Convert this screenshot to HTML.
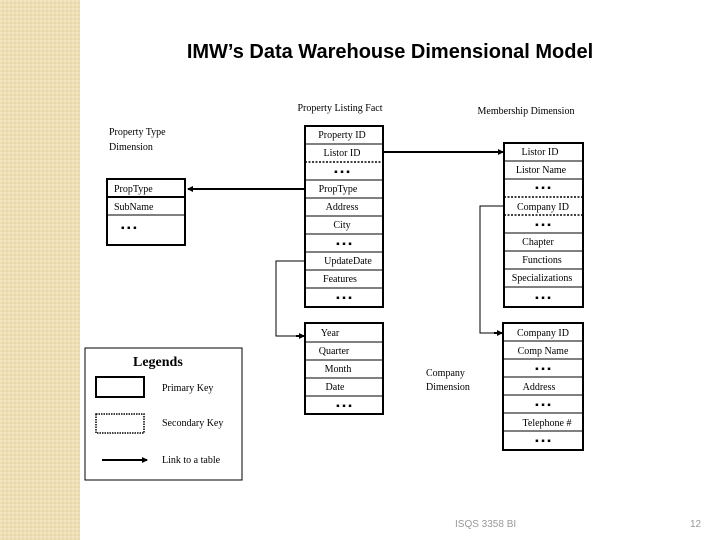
<!DOCTYPE html>
<html><head><meta charset="utf-8"><style>
body{margin:0;width:720px;height:540px;overflow:hidden;background:#fff}
svg{display:block}
.s{font-family:"Liberation Serif",serif;font-size:10px;fill:#000}
</style></head><body>
<svg width="720" height="540" viewBox="0 0 720 540" xmlns="http://www.w3.org/2000/svg">
<defs>
<pattern id="p" width="4" height="4" patternUnits="userSpaceOnUse"><rect width="4" height="4" fill="#eedfb6"/><rect width="2" height="2" fill="#f3e6c4"/><rect x="2" y="2" width="2" height="2" fill="#e8d7ab"/></pattern>
<marker id="a" markerWidth="6" markerHeight="6" refX="5" refY="3" orient="auto" markerUnits="userSpaceOnUse"><path d="M0,0 L6,3 L0,6z" fill="#000"/></marker>
</defs>
<rect width="80" height="540" fill="url(#p)"/>
<text x="390" y="58" text-anchor="middle" font-family="Liberation Sans,sans-serif" font-weight="bold" font-size="20">IMW’s Data Warehouse Dimensional Model</text>

<text class="s" x="340" y="111" text-anchor="middle" font-size="12">Property Listing Fact</text>
<text class="s" x="526" y="114" text-anchor="middle" font-size="12">Membership Dimension</text>
<text class="s" x="109" y="135" font-size="12">Property Type</text>
<text class="s" x="109" y="150" font-size="12">Dimension</text>
<text class="s" x="426" y="376" font-size="12">Company</text>
<text class="s" x="426" y="390" font-size="12">Dimension</text>

<g stroke="#000" fill="none">
<rect x="305" y="126" width="78" height="181" stroke-width="2"/>
<path d="M305 144H383M305 180H383M305 198H383M305 216H383M305 234H383M305 252H383M305 270H383M305 288H383" stroke-width="1"/>
<path d="M305 162H383" stroke-dasharray="2,1.5" stroke-width="1.5"/>
<rect x="107" y="179" width="78" height="66" stroke-width="2"/>
<path d="M107 197H185" stroke-width="2"/><path d="M107 215H185"/>
<rect x="504" y="143" width="79" height="164" stroke-width="2"/>
<path d="M504 161H583M504 179H583M504 233H583M504 251H583M504 269H583M504 287H583"/>
<path d="M504 197H583M504 215H583" stroke-dasharray="2,1.5" stroke-width="1.5"/>
<rect x="305" y="323" width="78" height="91" stroke-width="2"/>
<path d="M305 342H383M305 360H383M305 378H383M305 396H383"/>
<rect x="503" y="323" width="80" height="127" stroke-width="2"/>
<path d="M503 341H583M503 359H583M503 377H583M503 395H583M503 413H583M503 431H583"/>
<path d="M305 189H188" stroke-width="2" marker-end="url(#a)"/>
<path d="M383 152H503" stroke-width="2" marker-end="url(#a)"/>
<path d="M305 261H276V336H304" stroke-width="1"/>
<path d="M296 336H304" stroke-width="2" marker-end="url(#a)"/>
<path d="M504 206H480V333H502" stroke-width="1"/>
<path d="M494 333H502" stroke-width="2" marker-end="url(#a)"/>
<rect x="85" y="348" width="157" height="132" stroke-width="1"/>
<rect x="96" y="377" width="48" height="20" stroke-width="2"/>
<rect x="96" y="414" width="48" height="19" stroke-width="1.5" stroke-dasharray="1.5,1"/>
<path d="M102 460H147" stroke-width="2" marker-end="url(#a)"/>
</g>

<g class="s" text-anchor="middle">
<text x="342" y="138">Property ID</text>
<text x="342" y="156">Listor ID</text>
<text x="342" y="175">▪ ▪ ▪</text>
<text x="338" y="192">PropType</text>
<text x="342" y="210">Address</text>
<text x="342" y="228">City</text>
<text x="344" y="247">▪ ▪ ▪</text>
<text x="348" y="264">UpdateDate</text>
<text x="340" y="282">Features</text>
<text x="344" y="301">▪ ▪ ▪</text>

<text x="540" y="155">Listor ID</text>
<text x="541" y="173">Listor Name</text>
<text x="543" y="191">▪ ▪ ▪</text>
<text x="543" y="210">Company ID</text>
<text x="543" y="228">▪ ▪ ▪</text>
<text x="538" y="245">Chapter</text>
<text x="542" y="263">Functions</text>
<text x="542" y="281">Specializations</text>
<text x="543" y="301">▪ ▪ ▪</text>

<text x="330" y="336">Year</text>
<text x="334" y="354">Quarter</text>
<text x="338" y="372">Month</text>
<text x="335" y="390">Date</text>
<text x="344" y="409">▪ ▪ ▪</text>

<text x="543" y="336">Company ID</text>
<text x="543" y="354">Comp Name</text>
<text x="543" y="372">▪ ▪ ▪</text>
<text x="539" y="390">Address</text>
<text x="543" y="408">▪ ▪ ▪</text>
<text x="547" y="426">Telephone #</text>
<text x="543" y="444">▪ ▪ ▪</text>
</g>
<g class="s">
<text x="114" y="192">PropType</text>
<text x="114" y="210">SubName</text>
<text x="121" y="231">▪ ▪ ▪</text>
<text x="133" y="366" font-size="14" font-weight="bold">Legends</text>
<text x="162" y="391">Primary Key</text>
<text x="162" y="426">Secondary Key</text>
<text x="162" y="463">Link to a table</text>
</g>
<text x="455" y="527" font-family="Liberation Sans,sans-serif" font-size="10" fill="#999">ISQS 3358 BI</text>
<text x="690" y="527" font-family="Liberation Sans,sans-serif" font-size="10" fill="#999">12</text>
</svg>
</body></html>
